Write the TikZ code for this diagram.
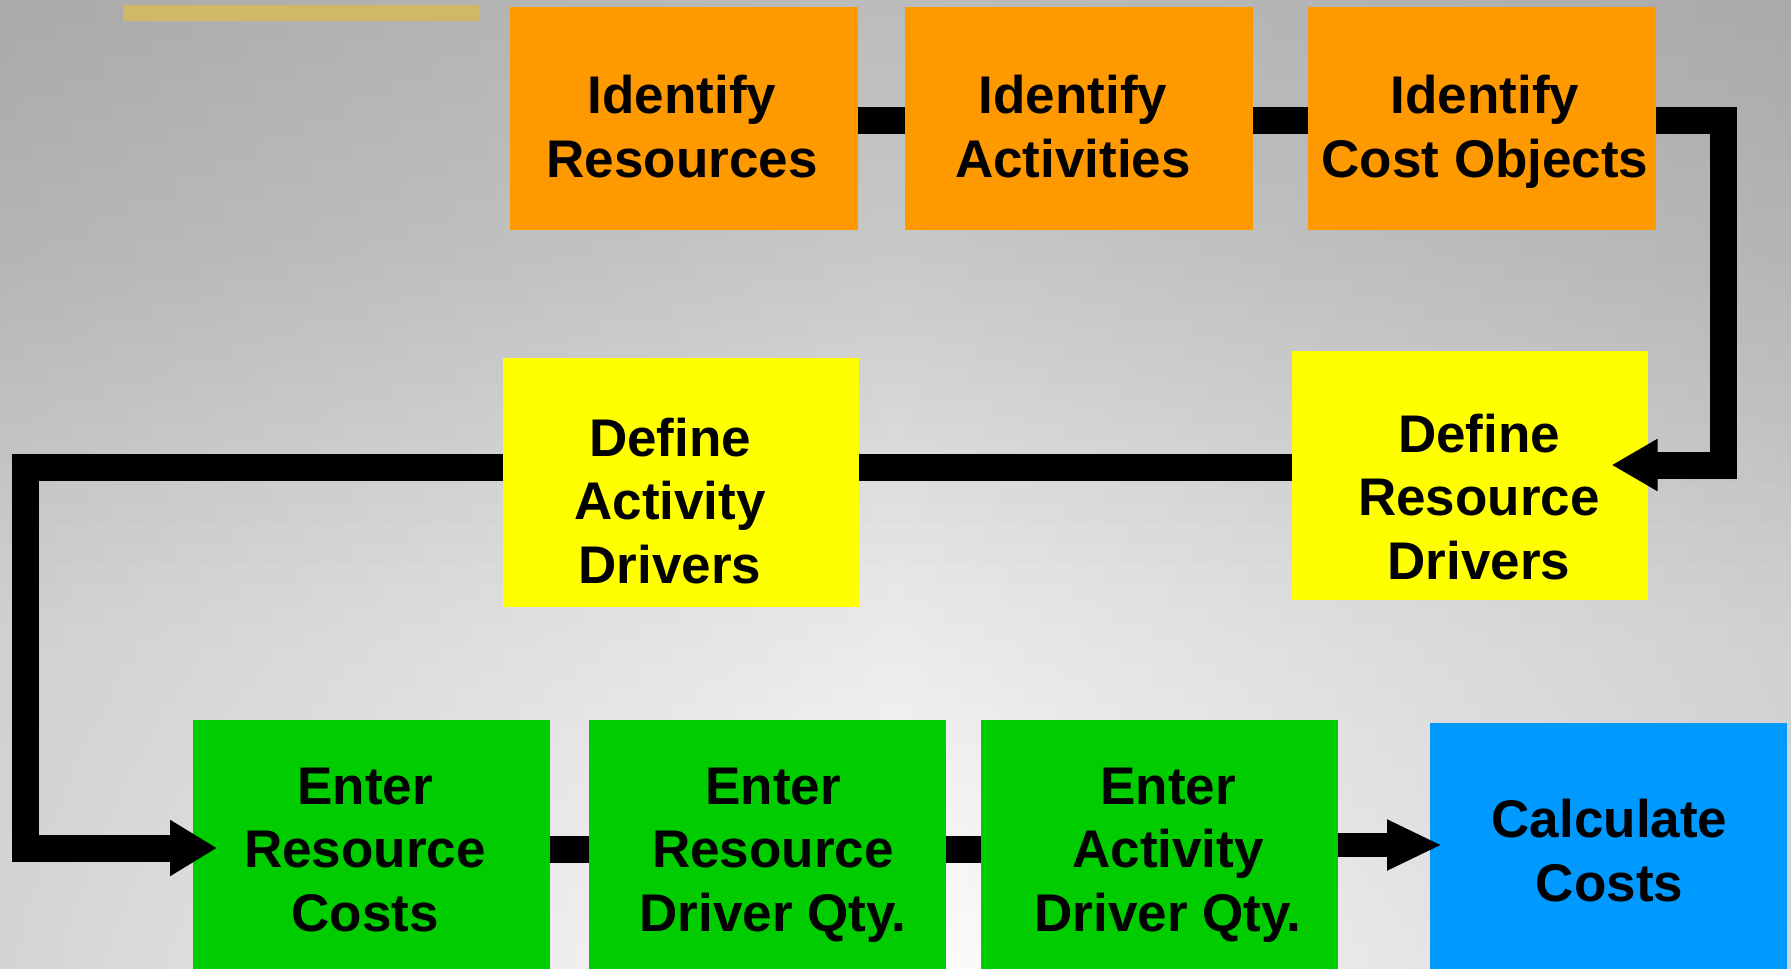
\documentclass[tikz,border=0pt]{standalone}
\usepackage{fontspec}
\setmainfont{Liberation Sans}
\usetikzlibrary{arrows.meta}
\definecolor{orangeC}{RGB}{255,153,0}
\definecolor{yellowC}{RGB}{255,255,0}
\definecolor{greenC}{RGB}{0,204,0}
\definecolor{blueC}{RGB}{0,153,255}
\definecolor{goldC}{RGB}{207,185,105}
\newcommand{\lnsA}[2]{\begin{tabular}{@{}c@{}}#1\\#2\end{tabular}}
\newcommand{\lnsB}[3]{\begin{tabular}{@{}c@{}}#1\\#2\\#3\end{tabular}}
\tikzset{
  box/.style={draw=none, inner sep=0pt, outer sep=0pt},
  obox/.style={box, fill=orangeC, minimum width=174pt, minimum height=111.5pt},
  ybox/.style={box, fill=yellowC, minimum width=178pt, minimum height=124.5pt},
  gbox/.style={box, fill=greenC, minimum width=178.5pt, minimum height=129pt},
  bbox/.style={box, fill=blueC, minimum width=178.5pt, minimum height=128pt},
  txt/.style={inner sep=0pt, outer sep=0pt, text=black, font={\fontsize{26.5pt}{31.75pt}\selectfont\bfseries}},
  conn/.style={draw=black, line width=13.5pt, line join=miter},
}
\begin{document}
\begin{tikzpicture}[x=0.5pt, y=-0.5pt]
\useasboundingbox (0,0) rectangle (1791,968);
\clip (0,0) rectangle (1791,968);
% background gradient
\foreach \i in {0,...,47} {
  \pgfmathsetmacro{\yy}{\i*20.17}
  \pgfmathsetmacro{\ym}{\yy+10}
  \pgfmathsetmacro{\cen}{(\ym<250 ? 188+12*(\ym/250) : (\ym<600 ? 200+32*((\ym-250)/350) : 232+22*((\ym-600)/368)))/255}
  \pgfmathsetmacro{\edg}{(\ym<650 ? 138+27*(\ym/650) : 165-22*((\ym-650)/318))/255}
  \pgfmathsetmacro{\qua}{\edg+0.62*(\cen-\edg)}
  \definecolor{bgE}{gray}{\edg}
  \definecolor{bgC}{gray}{\cen}
  \definecolor{bgQ}{gray}{\qua}
  \pgfdeclarehorizontalshading{bgsh\i}{100bp}{color(0bp)=(bgE); color(25bp)=(bgQ); color(50bp)=(bgC); color(75bp)=(bgQ); color(100bp)=(bgE)}
  \shade[shading=bgsh\i] (0,\yy) rectangle (1791,\yy+21);
}
% decorative bar
\fill[goldC] (123,5) rectangle (479,21);
% boxes
\node[obox] (o1) at (684,118.5) {};
\node[obox] (o2) at (1079,118.5) {};
\node[obox] (o3) at (1482,118.5) {};
\node[ybox] (y1) at (681,482.5) {};
\node[ybox] (y2) at (1469.5,475) {};
\node[gbox] (g1) at (371.5,849) {};
\node[gbox] (g2) at (767.5,849) {};
\node[gbox] (g3) at (1159.5,849) {};
\node[bbox] (bc) at (1608.5,851) {};
% connectors
\draw[conn] ([yshift=-1pt]o1.east) -- ([yshift=-1pt]o2.west);
\draw[conn] ([yshift=-1pt]o2.east) -- ([yshift=-1pt]o3.west);
\draw[conn, -{Triangle[length=23pt,width=24.5pt]}] ([yshift=-1pt]o3.east) -- (1723.5,120.5) -- (1723.5,465) -- ([xshift=-18pt,yshift=5pt]y2.east);
\draw[conn] ([yshift=3.75pt]y2.west) -- ([yshift=7.5pt]y1.east);
\draw[conn, -{Triangle[length=23.5pt,width=26.5pt]}] ([yshift=7.5pt]y1.west) -- (25,467.5) -- (25,848) -- ([xshift=12pt,yshift=0.5pt]g1.west);
\draw[conn] (g1.east) -- (g2.west);
\draw[conn] (g2.east) -- (g3.west);
\draw[conn, line width=12pt, -{Triangle[length=27.5pt,width=23.5pt]}] ([yshift=2pt]g3.east) -- ([xshift=6pt,yshift=3pt]bc.west);
% texts
\node[txt] (o1t) at (682,133) {\lnsA{Identify}{Resources}};
\node[txt] (o2t) at (1073,133) {\lnsA{Identify}{Activities}};
\node[txt] (o3t) at (1485,133) {\lnsA{Identify}{Cost Objects}};
\node[txt] (y1t) at (670,506.8) {\lnsB{Define}{Activity}{Drivers}};
\node[txt] (y2t) at (1479,502.8) {\lnsB{Define}{Resource}{Drivers}};
\node[txt] (g1t) at (365,854.8) {\lnsB{Enter}{Resource}{Costs}};
\node[txt] (g2t) at (773,854.8) {\lnsB{Enter}{Resource}{Driver Qty.}};
\node[txt] (g3t) at (1168,854.8) {\lnsB{Enter}{Activity}{Driver Qty.}};
\node[txt] (bct) at (1609.5,857) {\lnsA{Calculate}{Costs}};
\end{tikzpicture}
\end{document}
